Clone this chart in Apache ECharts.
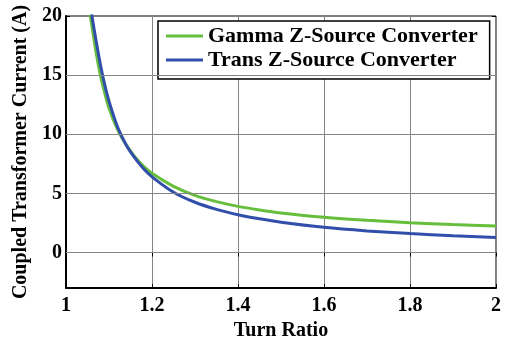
<!DOCTYPE html>
<html>
<head>
<meta charset="utf-8">
<script src="https://cdn.jsdelivr.net/npm/echarts@6/dist/echarts.min.js"></script>
<style>
  html, body { margin: 0; padding: 0; background: #fff; }
  #chart { width: 508px; height: 339px; }
</style>
</head>
<body>
<div id="chart"></div>
<script>
// Turn ratio (x) shared by both converter curves
const turnRatio = [1.056, 1.06, 1.07, 1.08, 1.09, 1.10, 1.12, 1.14, 1.16, 1.18, 1.20,
                   1.25, 1.30, 1.35, 1.40, 1.45, 1.50, 1.60, 1.70, 1.80, 1.90, 2.00];
// Coupled transformer current (A)
const gammaCurrent = [20.1, 19.2, 16.9, 15.0, 13.5, 12.2, 10.4, 9.1, 8.1, 7.3, 6.7,
                      5.6, 4.83, 4.3, 3.9, 3.6, 3.35, 2.98, 2.72, 2.52, 2.36, 2.24];
const transCurrent = [21.4, 20.1, 17.9, 15.9, 14.2, 12.8, 10.6, 9.1, 8.0, 7.1, 6.4,
                      5.1, 4.25, 3.65, 3.2, 2.85, 2.56, 2.13, 1.83, 1.6, 1.42, 1.28];
const seriesNames = ['Gamma Z-Source Converter', 'Trans Z-Source Converter'];
const xTicks = [1, 1.2, 1.4, 1.6, 1.8, 2];
const yTicks = [0, 5, 10, 15, 20];

const FONT = '"Liberation Serif", "DejaVu Serif", serif';
const pairs = (ys) => turnRatio.map((x, i) => [x, ys[i]]);

const chart = echarts.init(document.getElementById('chart'), null, { renderer: 'canvas' });

const tickStyle = { show: true, inside: true, length: 4, lineStyle: { color: '#000', width: 1 } };
const gridLine = { show: true, lineStyle: { color: '#858585', width: 1 } };
const axisText = { fontFamily: FONT, fontWeight: 'bold', fontSize: 20, color: '#000' };

chart.setOption({
  animation: false,
  backgroundColor: '#fff',
  grid: {
    left: 66, right: 12, top: 16, bottom: 51,
    outerBoundsMode: 'none', containLabel: false,
    show: true, borderColor: '#000', borderWidth: 1, backgroundColor: 'transparent'
  },
  legend: {
    data: seriesNames,
    orient: 'vertical',
    left: 158, top: 21,
    padding: [3, 12, 7, 8],
    itemGap: 0,
    itemWidth: 37, itemHeight: 3,
    icon: 'rect',
    backgroundColor: '#fff',
    borderColor: '#000', borderWidth: 1.5, borderRadius: 0,
    textStyle: { fontFamily: FONT, fontWeight: 'bold', fontSize: 22, color: '#000', lineHeight: 24 }
  },
  xAxis: [{
    type: 'value', min: 1, max: 2,
    name: 'Turn Ratio', nameLocation: 'middle', nameGap: 26,
    nameTextStyle: axisText,
    axisLine: { show: true, onZero: false, lineStyle: { color: '#000', width: 2 } },
    axisTick: Object.assign({}, tickStyle, { customValues: xTicks }),
    axisLabel: Object.assign({ customValues: xTicks, margin: 8, formatter: (v) => String(v) }, axisText),
    splitLine: gridLine
  }, {
    type: 'value', min: 1, max: 2, position: 'top',
    axisLine: { show: false },
    axisTick: Object.assign({}, tickStyle, { customValues: xTicks }),
    axisLabel: { show: false },
    splitLine: { show: false }
  }],
  yAxis: [{
    type: 'value', min: -3, max: 20,
    name: 'Coupled Transformer Current (A)', nameLocation: 'middle', nameGap: 29,
    nameTextStyle: axisText,
    axisLine: { show: true, onZero: false, lineStyle: { color: '#000', width: 2 } },
    axisTick: Object.assign({}, tickStyle, { customValues: yTicks }),
    axisLabel: Object.assign({ customValues: yTicks, margin: 4 }, axisText),
    splitLine: { show: false }
  }, {
    type: 'value', min: -3, max: 20, position: 'right',
    axisLine: { show: false },
    axisTick: Object.assign({}, tickStyle, { customValues: yTicks }),
    axisLabel: { show: false },
    splitLine: { show: false }
  }],
  series: [{
    name: seriesNames[0], type: 'line', data: pairs(gammaCurrent),
    smooth: 0.3, symbol: 'none', clip: true,
    color: '#66be3c', lineStyle: { color: '#66be3c', width: 3 },
    markLine: {
      silent: true, symbol: 'none', animation: false, label: { show: false },
      lineStyle: { color: '#858585', width: 1, type: 'solid' },
      data: yTicks.filter(v => v > -3 && v < 20).map(v => ({ yAxis: v }))
    },
    z: 3
  }, {
    name: seriesNames[1], type: 'line', data: pairs(transCurrent),
    smooth: 0.3, symbol: 'none', clip: true,
    color: '#304eaa', lineStyle: { color: '#304eaa', width: 3 },
    z: 4
  }]
});
</script>
</body>
</html>
